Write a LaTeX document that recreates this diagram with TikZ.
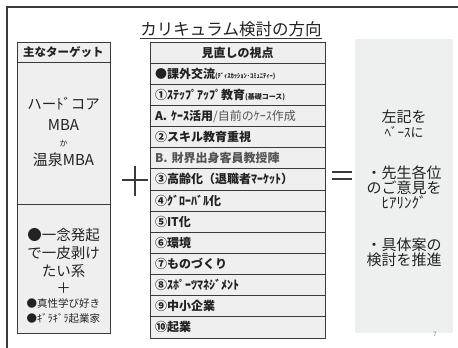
\documentclass[tikz,border=0pt]{standalone}
\usepackage{fontspec}
\setmainfont{Noto Sans CJK JP}
\newcommand\fsz[1]{\fontsize{#1}{#1}\selectfont}
\definecolor{cellfill}{HTML}{EFEFEF}
\definecolor{rightfill}{HTML}{EEF0EF}
\definecolor{linec}{HTML}{3A3A3A}
\definecolor{txt}{HTML}{222222}
\definecolor{greytxt}{HTML}{555555}
\begin{document}
\begin{tikzpicture}[x=1pt,y=-1pt,
  cell/.style={draw=linec, line width=0.8pt, fill=cellfill, inner sep=0pt, text=txt},
  rowcell/.style={cell, minimum width=175pt, minimum height=21.14pt, text width=165pt, inner xsep=5pt, align=left, font=\fsz{12}\bfseries},
  lcell/.style={cell, minimum width=93pt},
  ltext/.style={inner sep=0pt, text=txt},
  sym/.style={line width=2.8pt, draw=linec}
]
\useasboundingbox (0,0) rectangle (458,348);
% frame
\coordinate (f1) at (7,348);
\coordinate (f2) at (7,7);
\coordinate (f3) at (458,7);
\draw[linec, line width=1.8pt] (f1) -- (f2) -- (f3);
% title
\node[inner sep=0pt, text=txt, font=\fsz{16.5}] (title) at (231,29) {カリキュラム検討の方向};
\draw[linec, line width=0.8pt] ([yshift=-1.5pt]title.south west) -- ([yshift=-1.5pt]title.south east);
% left column
\node[lcell, minimum height=20pt, font=\fsz{11.5}\bfseries] (lh) at (63.5,52) {主なターゲット};
\node[lcell, minimum height=142pt] (lb1) at (63.5,133) {};
\node[lcell, minimum height=129pt] (lb2) at (63.5,268.5) {};
\node[ltext, font=\fsz{14.5}] (l1) at (63.5,104) {ハーﾄﾞコア};
\node[ltext, font=\fsz{15}] (l2) at (63.5,125) {MBA};
\node[ltext, font=\fsz{8}] (l3) at (63.5,143) {か};
\node[ltext, font=\fsz{15}] (l4) at (63.5,160) {温泉MBA};
\node[ltext, font=\fsz{14.5}] (l5) at (63.5,235) {●一念発起};
\node[ltext, font=\fsz{14.5}] (l6) at (63.5,253) {で一皮剥け};
\node[ltext, font=\fsz{14.5}] (l7) at (63.5,271) {たい系};
\node[ltext, font=\fsz{14.5}] (l8) at (63.5,288) {＋};
\node[ltext, font=\fsz{10.5}] (l9) at (63.5,303) {●真性学び好き};
\node[ltext, font=\fsz{10.5}] (l10) at (63.5,318) {●ｷﾞﾗｷﾞﾗ起業家};
% middle table
\node[rowcell, align=center] (r0) at (237.5,52.57) {見直しの視点};
\node[rowcell] (r1) at (237.5,73.71) {●課外交流{\fsz{6.5}(ﾃﾞｨｽｶｯｼｮﾝ･ｺﾐｭﾆﾃｨｰ)}};
\node[rowcell] (r2) at (237.5,94.86) {①ｽﾃｯﾌﾟｱｯﾌﾟ教育{\fsz{7}(基礎コース)}};
\node[rowcell] (r3) at (237.5,116.00) {A. ｹｰｽ活用{\mdseries\color{greytxt}/自前のｹｰｽ作成}};
\node[rowcell] (r4) at (237.5,137.14) {②スキル教育重視};
\node[rowcell, text=greytxt] (r5) at (237.5,158.29) {B. 財界出身客員教授陣};
\node[rowcell] (r6) at (237.5,179.43) {③高齢化（退職者ﾏｰｹｯﾄ）};
\node[rowcell] (r7) at (237.5,200.57) {④ｸﾞﾛｰﾊﾞﾙ化};
\node[rowcell] (r8) at (237.5,221.71) {⑤IT化};
\node[rowcell] (r9) at (237.5,242.86) {⑥環境};
\node[rowcell] (r10) at (237.5,264.00) {⑦ものづくり};
\node[rowcell] (r11) at (237.5,285.14) {⑧ｽﾎﾟｰﾂﾏﾈｼﾞﾒﾝﾄ};
\node[rowcell] (r12) at (237.5,306.29) {⑨中小企業};
\node[rowcell] (r13) at (237.5,327.43) {⑩起業};
% right box
\node[fill=rightfill, inner sep=0pt, minimum width=98pt, minimum height=294pt] (rb) at (404,186) {};
\node[ltext, align=center, font=\fsz{15}, text=txt] (rt) at (404,188)
  {\fontsize{15}{19.5}\selectfont 左記を\\{\fsz{13}ﾍﾞｰｽに}\\[26.5pt]・先生各位\\のご意見を\\{\fsz{15}ﾋｱﾘﾝｸﾞ}\\[26.5pt]・具体案の\\検討を推進};
% plus and equals
\coordinate (p1) at (122,180);
\coordinate (p2) at (148,180);
\coordinate (p3) at (135,166);
\coordinate (p4) at (135,196);
\draw[sym] (p1) -- (p2);
\draw[sym] (p3) -- (p4);
\coordinate (e1) at (332,172);
\coordinate (e2) at (352,172);
\coordinate (e3) at (332,179);
\coordinate (e4) at (352,179);
\draw[sym, line width=2.5pt] (e1) -- (e2);
\draw[sym, line width=2.5pt] (e3) -- (e4);
% page number
\node[inner sep=0pt, text=black!55, font=\fsz{6}] (pg) at (435,334) {7};
\end{tikzpicture}
\end{document}
